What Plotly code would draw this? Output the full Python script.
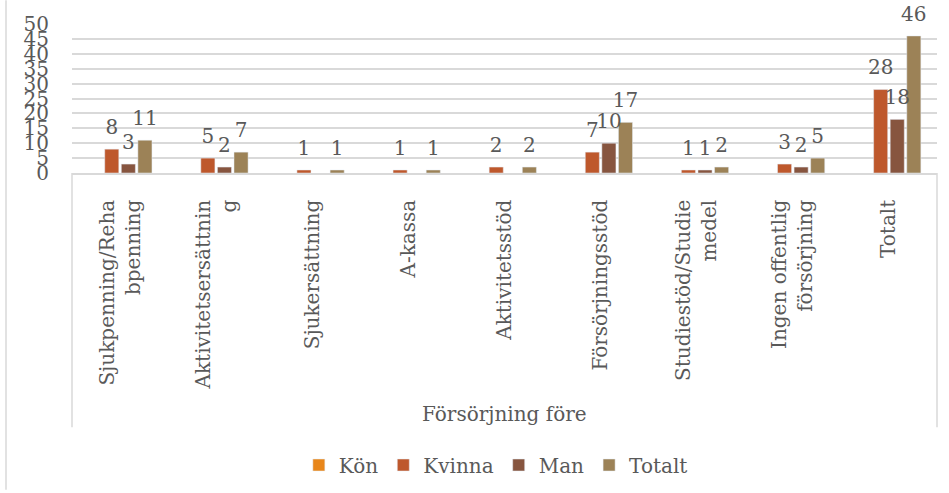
import plotly.graph_objects as go

# Data
kategorier = [
    "Sjukpenning/Reha<br>bpenning",
    "Aktivitetsersättnin<br>g",
    "Sjukersättning",
    "A-kassa",
    "Aktivitetsstöd",
    "Försörjningsstöd",
    "Studiestöd/Studie<br>medel",
    "Ingen offentlig<br>försörjning",
    "Totalt",
]
kon = [None, None, None, None, None, None, None, None, None]
kvinna = [8, 5, 1, 1, 2, 7, 1, 3, 28]
man = [3, 2, None, None, None, 10, 1, 2, 18]
totalt = [11, 7, 1, 1, 2, 17, 2, 5, 46]

serier = [
    ("Kön", kon, "#E8861A"),
    ("Kvinna", kvinna, "#BE582C"),
    ("Man", man, "#87553F"),
    ("Totalt", totalt, "#9C8257"),
]

grå = "#595959"
linje = "#D9D9D9"
typsnitt = "DejaVu Serif"
storlek = 20

fig = go.Figure()
for namn, varden, farg in serier:
    fig.add_trace(
        go.Bar(
            x = kategorier,
            y = varden,
            name = namn,
            marker_color = farg,
            offsetgroup = namn,
        )
    )
    # Dataetiketter ovanför staplarna
    fig.add_trace(
        go.Scatter(
            x = kategorier,
            y = varden,
            mode = "markers+text",
            text = varden,
            textposition = "top center",
            marker = dict(size = 15, opacity = 0),
            offsetgroup = namn,
            cliponaxis = False,
            showlegend = False,
            hoverinfo = "skip",
            textfont = dict(family = typsnitt, size = storlek, color = grå),
        )
    )

# Ramar runt kategoriaxeln och diagrammet
for xp in [0, 1]:
    fig.add_shape(
        type = "line", xref = "paper", yref = "paper",
        x0 = xp, x1 = xp, y0 = 0, y1 = (174 - 430) / 150,
        line = dict(color = linje, width = 1.5)
    )
fig.add_shape(
    type = "line", xref = "paper", yref = "paper",
    x0 = (6 - 72) / 865, x1 = (6 - 72) / 865, y0 = 174 / 150, y1 = (174 - 493) / 150,
    line = dict(color = linje, width = 1.5)
)

fig.add_annotation(
    text = "Försörjning före",
    xref = "paper", yref = "paper",
    x = 0.5, y = (174 - 417) / 150,
    yanchor = "middle",
    showarrow = False,
    font = dict(family = typsnitt, size = storlek, color = grå)
)

fig.update_layout(
    width = 949,
    height = 493,
    margin = dict(l = 72, r = 12, t = 24, b = 319),
    paper_bgcolor = "white",
    plot_bgcolor = "white",
    barmode = "group",
    bargap = 0.31,
    bargroupgap = 0.15,
    scattermode = "group",
    scattergap = 0.31,
    font = dict(family = typsnitt, size = storlek, color = grå),
    showlegend = True,
    legend = dict(
        orientation = "h",
        xanchor = "center",
        x = 0.49,
        yanchor = "middle",
        y = (174 - 465) / 150,
        font = dict(family = typsnitt, size = storlek, color = grå),
        itemwidth = 30,
        traceorder = "normal",
    ),
    xaxis = dict(
        tickangle = -90,
        showline = True,
        linecolor = linje,
        linewidth = 1.5,
        ticks = "",
        automargin = False,
        ticklabelstandoff = 17,
        tickfont = dict(family = typsnitt, size = storlek, color = grå),
    ),
    yaxis = dict(
        range = [0, 50],
        dtick = 5,
        gridcolor = linje,
        gridwidth = 1.5,
        zeroline = False,
        showline = False,
        ticks = "",
        automargin = False,
        ticklabelstandoff = 22,
        tickfont = dict(family = typsnitt, size = storlek, color = grå),
    ),
)

# Ta bort sidans standardmarginal så att figuren fyller fönstret
fig.write_html(
    "out.html",
    config = {"displayModeBar": False},
    post_script = "document.body.style.margin = '0';",
)
